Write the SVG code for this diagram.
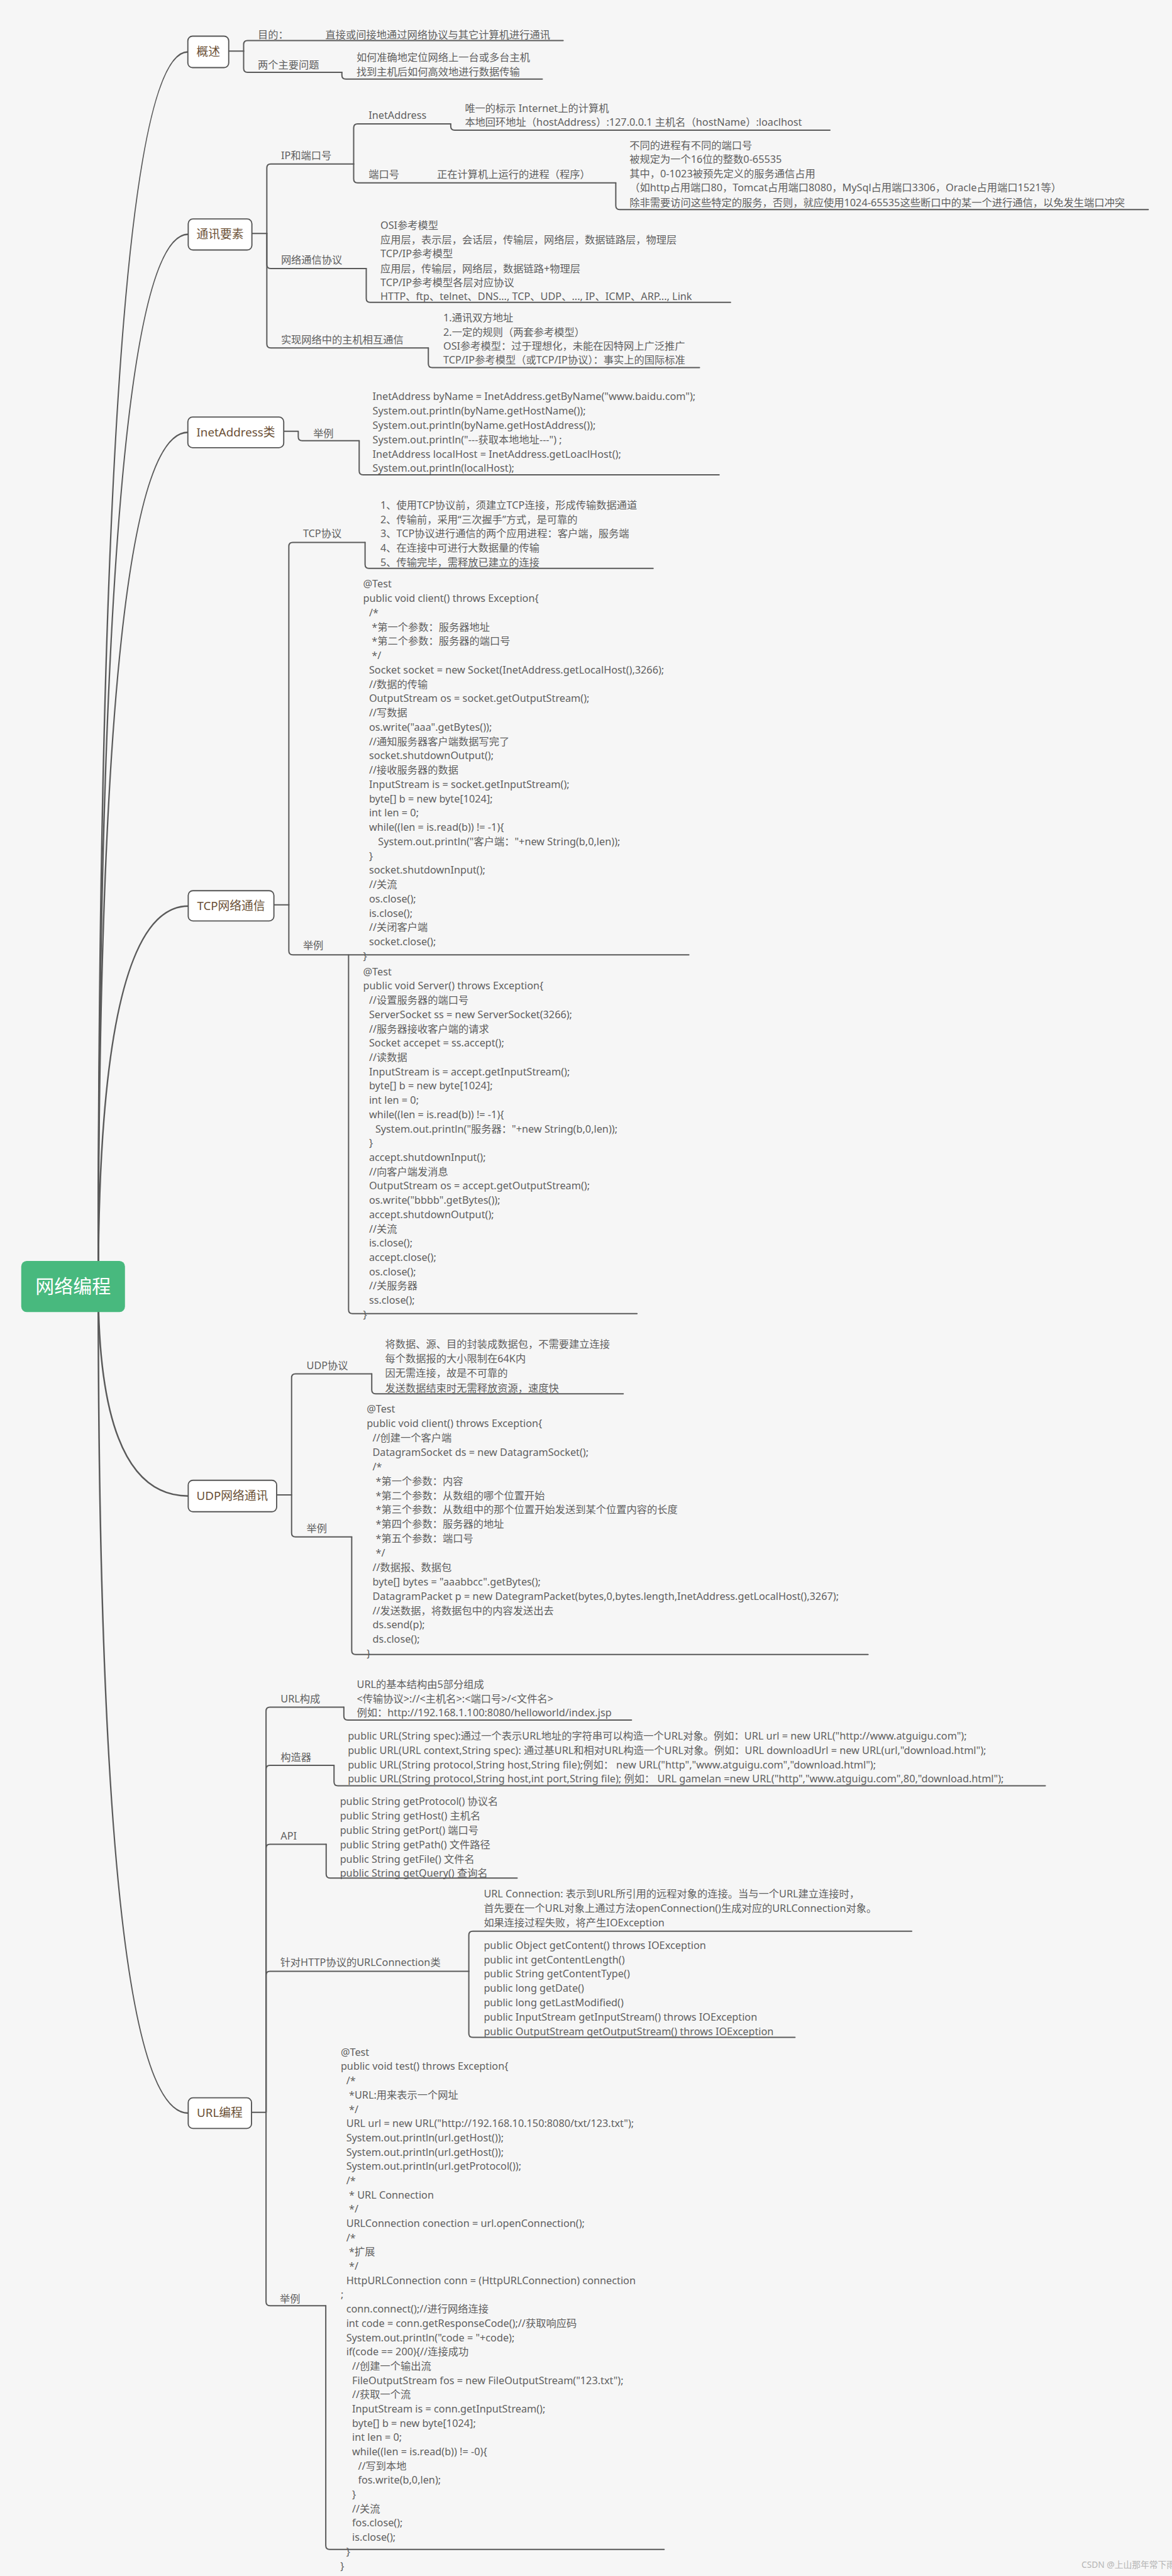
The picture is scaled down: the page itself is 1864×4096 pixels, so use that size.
<svg xmlns="http://www.w3.org/2000/svg" width="1864" height="4096" viewBox="0 0 1864 4096">
<style>
.bg{fill:#f6f6f6}
.c{fill:none;stroke:#5a5a5a;stroke-width:3.2;stroke-linecap:round;stroke-linejoin:round}
.m{fill:none;stroke:#5a5a5a;stroke-width:4}
.t{font-family:"Noto Sans","Noto Sans CJK SC",sans-serif;font-size:26px;fill:#5f5f5f}
.nb{fill:#fff;stroke:#555;stroke-width:3}
.nt{font-family:"Noto Sans","Noto Sans CJK SC",sans-serif;font-size:30px;fill:#6b5036;text-anchor:middle}
.rb{fill:#48b97e}
.rt{font-family:"Noto Sans CJK SC","Noto Sans",sans-serif;font-size:48px;fill:#fff;text-anchor:middle}
.wm{font-family:"Noto Sans","Noto Sans CJK SC",sans-serif;font-size:22px;fill:#b4b4b4}
</style>
<rect class="bg" width="1864" height="4096"/>
<g transform="scale(0.625)" xml:space="preserve">
<g id="connectors">
<path class="m" d="M250 3273 Q250 132 478 132"/>
<path class="m" d="M250 3273 Q250 596 479 596"/>
<path class="m" d="M250 3273 Q250 1100 478 1100"/>
<path class="m" d="M250 3273 Q250 2305 479 2305"/>
<path class="m" d="M250 3273 Q250 3806 479 3806"/>
<path class="m" d="M250 3273 Q250 5376 479 5376"/>
<path class="c" d="M582 130 H620"/>
<path class="c" d="M620 130 V113 Q620 103 630 103 H1433"/>
<path class="c" d="M620 130 V174 Q620 184 630 184 H870"/>
<path class="c" d="M870 184 V191 Q870 201 880 201 H1380"/>
<path class="c" d="M641 594 H679"/>
<path class="c" d="M679 594 V427 Q679 417 689 417 H900"/>
<path class="c" d="M679 594 V673 Q679 683 689 683 H932"/>
<path class="c" d="M679 594 V875 Q679 885 689 885 H1090"/>
<path class="c" d="M900 417 V325 Q900 315 910 315 H1147"/>
<path class="c" d="M900 417 V455 Q900 465 910 465 H1567"/>
<path class="c" d="M1147 315 V321 Q1147 331 1157 331 H2112"/>
<path class="c" d="M1567 465 V523 Q1567 533 1577 533 H2922"/>
<path class="c" d="M932 683 V759 Q932 769 942 769 H1859"/>
<path class="c" d="M1090 885 V925 Q1090 935 1100 935 H1780"/>
<path class="c" d="M722 1097 H759 V1111 Q759 1121 769 1121 H914"/>
<path class="c" d="M914 1121 V1198 Q914 1208 924 1208 H1830"/>
<path class="c" d="M697 2302 H735"/>
<path class="c" d="M735 2302 V1390 Q735 1380 745 1380 H929"/>
<path class="c" d="M735 2302 V2419 Q735 2429 745 2429 H1753"/>
<path class="c" d="M929 1380 V1436 Q929 1446 939 1446 H1662"/>
<path class="c" d="M887 2429 V3332 Q887 3342 897 3342 H1621"/>
<path class="c" d="M704 3803 H742"/>
<path class="c" d="M742 3803 V3505 Q742 3495 752 3495 H946"/>
<path class="c" d="M742 3803 V3900 Q742 3910 752 3910 H895"/>
<path class="c" d="M946 3495 V3536 Q946 3546 956 3546 H1586"/>
<path class="c" d="M895 3910 V4199 Q895 4209 905 4209 H2209"/>
<path class="c" d="M640 5374 H677"/>
<path class="c" d="M677 5374 V4353 Q677 4343 687 4343 H875"/>
<path class="c" d="M677 5374 V4501 Q677 4491 687 4491 H850"/>
<path class="c" d="M677 5374 V4702 Q677 4692 687 4692 H830"/>
<path class="c" d="M677 5374 V5025 Q677 5015 687 5015 H1193"/>
<path class="c" d="M677 5374 V5856 Q677 5866 687 5866 H829"/>
<path class="c" d="M875 4343 V4366 Q875 4376 885 4376 H1607"/>
<path class="c" d="M850 4491 V4533 Q850 4543 860 4543 H2660"/>
<path class="c" d="M830 4692 V4768 Q830 4778 840 4778 H1316"/>
<path class="c" d="M1193 5015 V4923 Q1193 4913 1203 4913 H2320"/>
<path class="c" d="M1193 5015 V5173 Q1193 5183 1203 5183 H2023"/>
<path class="c" d="M829 5866 V6476 Q829 6486 839 6486 H1690"/>
</g>
<g id="root">
<rect class="rb" x="54" y="3208" width="264" height="130" rx="14"/>
<text class="rt" x="186" y="3290">网络编程</text>
</g>
<g id="gaishu">
<rect class="nb" x="478" y="92" width="104" height="80" rx="12"/>
<text class="nt" x="530" y="142">概述</text>
<text class="t" x="656" y="97">目的：</text>
<text class="t" x="828" y="97">直接或间接地通过网络协议与其它计算机进行通讯</text>
<text class="t" x="656" y="175">两个主要问题</text>
<text class="t" x="907" y="155">如何准确地定位网络上一台或多台主机</text>
<text class="t" x="907" y="192">找到主机后如何高效地进行数据传输</text>
</g>
<g id="tongxun">
<rect class="nb" x="479" y="557" width="162" height="79" rx="12"/>
<text class="nt" x="560" y="606">通讯要素</text>
<text class="t" x="715" y="405">IP和端口号</text>
<text class="t" x="938" y="302">InetAddress</text>
<text class="t" x="1183" y="285">唯一的标示  Internet上的计算机</text>
<text class="t" x="1183" y="320">本地回环地址（hostAddress）:127.0.0.1    主机名（hostName）:loaclhost</text>
<text class="t" x="938" y="453">端口号</text>
<text class="t" x="1112" y="453">正在计算机上运行的进程（程序）</text>
<text class="t" x="1602" y="379">不同的进程有不同的端口号</text>
<text class="t" x="1602" y="415">被规定为一个16位的整数0-65535</text>
<text class="t" x="1602" y="451">其中，0-1023被预先定义的服务通信占用</text>
<text class="t" x="1602" y="487">（如http占用端口80，Tomcat占用端口8080，MySql占用端口3306，Oracle占用端口1521等）</text>
<text class="t" x="1602" y="524">除非需要访问这些特定的服务，否则，就应使用1024-65535这些断口中的某一个进行通信，以免发生端口冲突</text>
<text class="t" x="715" y="671">网络通信协议</text>
<text class="t" x="968" y="582">OSI参考模型</text>
<text class="t" x="968" y="619">应用层，表示层，会话层，传输层，网络层，数据链路层，物理层</text>
<text class="t" x="968" y="655">TCP/IP参考模型</text>
<text class="t" x="968" y="692">应用层，传输层，网络层，数据链路+物理层</text>
<text class="t" x="968" y="728">TCP/IP参考模型各层对应协议</text>
<text class="t" x="968" y="763">HTTP、ftp、telnet、DNS...,  TCP、UDP、...,  IP、ICMP、ARP...,  Link</text>
<text class="t" x="715" y="874">实现网络中的主机相互通信</text>
<text class="t" x="1128" y="818">1.通讯双方地址</text>
<text class="t" x="1128" y="854">2.一定的规则（两套参考模型）</text>
<text class="t" x="1128" y="890">OSI参考模型：过于理想化，未能在因特网上广泛推广</text>
<text class="t" x="1128" y="925">TCP/IP参考模型（或TCP/IP协议）：事实上的国际标准</text>
</g>
<g id="inetaddress">
<rect class="nb" x="478" y="1061" width="244" height="78" rx="12"/>
<text class="nt" x="600" y="1110">InetAddress类</text>
<text class="t" x="797" y="1112">举例</text>
<text class="t"><tspan x="948" y="1018">InetAddress byName = InetAddress.getByName("www.baidu.com");</tspan><tspan x="948" dy="36.5">System.out.println(byName.getHostName());</tspan><tspan x="948" dy="36.5">System.out.println(byName.getHostAddress());</tspan><tspan x="948" dy="36.5">System.out.println("---获取本地地址---") ;</tspan><tspan x="948" dy="36.5">InetAddress localHost = InetAddress.getLoaclHost();</tspan><tspan x="948" dy="36.5">System.out.println(localHost);</tspan></text>
</g>
<g id="tcp">
<rect class="nb" x="479" y="2266" width="218" height="77" rx="12"/>
<text class="nt" x="588" y="2315">TCP网络通信</text>
<text class="t" x="771" y="1366">TCP协议</text>
<text class="t"><tspan x="968" y="1294">1、使用TCP协议前，须建立TCP连接，形成传输数据通道</tspan><tspan x="968" dy="36.5">2、传输前，采用“三次握手”方式，是可靠的</tspan><tspan x="968" dy="36.5">3、TCP协议进行通信的两个应用进程：客户端，服务端</tspan><tspan x="968" dy="36.5">4、在连接中可进行大数据量的传输</tspan><tspan x="968" dy="36.5">5、传输完毕，需释放已建立的连接</tspan></text>
<text class="t" x="771" y="2415">举例</text>
<text class="t"><tspan x="924" y="1495">@Test</tspan><tspan x="924" dy="36.4">public void client() throws Exception{</tspan><tspan x="939" dy="36.4">/*</tspan><tspan x="946" dy="36.4">*第一个参数：服务器地址</tspan><tspan x="946" dy="36.4">*第二个参数：服务器的端口号</tspan><tspan x="946" dy="36.4">*/</tspan><tspan x="939" dy="36.4">Socket socket = new Socket(InetAddress.getLocalHost(),3266);</tspan><tspan x="939" dy="36.4">//数据的传输</tspan><tspan x="939" dy="36.4">OutputStream os = socket.getOutputStream();</tspan><tspan x="939" dy="36.4">//写数据</tspan><tspan x="939" dy="36.4">os.write("aaa".getBytes());</tspan><tspan x="939" dy="36.4">//通知服务器客户端数据写完了</tspan><tspan x="939" dy="36.4">socket.shutdownOutput();</tspan><tspan x="939" dy="36.4">//接收服务器的数据</tspan><tspan x="939" dy="36.4">InputStream is = socket.getInputStream();</tspan><tspan x="939" dy="36.4">byte[] b = new byte[1024];</tspan><tspan x="939" dy="36.4">int len = 0;</tspan><tspan x="939" dy="36.4">while((len = is.read(b)) != -1){</tspan><tspan x="962" dy="36.4">System.out.println("客户端："+new String(b,0,len));</tspan><tspan x="939" dy="36.4">}</tspan><tspan x="939" dy="36.4">socket.shutdownInput();</tspan><tspan x="939" dy="36.4">//关流</tspan><tspan x="939" dy="36.4">os.close();</tspan><tspan x="939" dy="36.4">is.close();</tspan><tspan x="939" dy="36.4">//关闭客户端</tspan><tspan x="939" dy="36.4">socket.close();</tspan><tspan x="924" dy="36.4">}</tspan></text>
<text class="t"><tspan x="924" y="2481">@Test</tspan><tspan x="924" dy="36.35">public void Server() throws Exception{</tspan><tspan x="939" dy="36.35">//设置服务器的端口号</tspan><tspan x="939" dy="36.35">ServerSocket ss = new ServerSocket(3266);</tspan><tspan x="939" dy="36.35">//服务器接收客户端的请求</tspan><tspan x="939" dy="36.35">Socket accepet = ss.accept();</tspan><tspan x="939" dy="36.35">//读数据</tspan><tspan x="939" dy="36.35">InputStream is = accept.getInputStream();</tspan><tspan x="939" dy="36.35">byte[] b = new byte[1024];</tspan><tspan x="939" dy="36.35">int len = 0;</tspan><tspan x="939" dy="36.35">while((len = is.read(b)) != -1){</tspan><tspan x="955" dy="36.35">System.out.println("服务器："+new String(b,0,len));</tspan><tspan x="939" dy="36.35">}</tspan><tspan x="939" dy="36.35">accept.shutdownInput();</tspan><tspan x="939" dy="36.35">//向客户端发消息</tspan><tspan x="939" dy="36.35">OutputStream os = accept.getOutputStream();</tspan><tspan x="939" dy="36.35">os.write("bbbb".getBytes());</tspan><tspan x="939" dy="36.35">accept.shutdownOutput();</tspan><tspan x="939" dy="36.35">//关流</tspan><tspan x="939" dy="36.35">is.close();</tspan><tspan x="939" dy="36.35">accept.close();</tspan><tspan x="939" dy="36.35">os.close();</tspan><tspan x="939" dy="36.35">//关服务器</tspan><tspan x="939" dy="36.35">ss.close();</tspan><tspan x="924" dy="36.35">}</tspan></text>
</g>
<g id="udp">
<rect class="nb" x="479" y="3766" width="225" height="80" rx="12"/>
<text class="nt" x="591" y="3816">UDP网络通讯</text>
<text class="t" x="780" y="3483">UDP协议</text>
<text class="t"><tspan x="980" y="3429">将数据、源、目的封装成数据包，不需要建立连接</tspan><tspan x="980" dy="37">每个数据报的大小限制在64K内</tspan><tspan x="980" dy="37">因无需连接，故是不可靠的</tspan><tspan x="980" dy="37">发送数据结束时无需释放资源，速度快</tspan></text>
<text class="t" x="780" y="3898">举例</text>
<text class="t"><tspan x="933" y="3594">@Test</tspan><tspan x="933" dy="36.6">public void client() throws Exception{</tspan><tspan x="948" dy="36.6">//创建一个客户端</tspan><tspan x="948" dy="36.6">DatagramSocket ds = new DatagramSocket();</tspan><tspan x="948" dy="36.6">/*</tspan><tspan x="956" dy="36.6">*第一个参数：内容</tspan><tspan x="956" dy="36.6">*第二个参数：从数组的哪个位置开始</tspan><tspan x="956" dy="36.6">*第三个参数：从数组中的那个位置开始发送到某个位置内容的长度</tspan><tspan x="956" dy="36.6">*第四个参数：服务器的地址</tspan><tspan x="956" dy="36.6">*第五个参数：端口号</tspan><tspan x="956" dy="36.6">*/</tspan><tspan x="948" dy="36.6">//数据报、数据包</tspan><tspan x="948" dy="36.6">byte[] bytes = "aaabbcc".getBytes();</tspan><tspan x="948" dy="36.6">DatagramPacket p = new DategramPacket(bytes,0,bytes.length,InetAddress.getLocalHost(),3267);</tspan><tspan x="948" dy="36.6">//发送数据，将数据包中的内容发送出去</tspan><tspan x="948" dy="36.6">ds.send(p);</tspan><tspan x="948" dy="36.6">ds.close();</tspan><tspan x="933" dy="36.6">}</tspan></text>
</g>
<g id="url">
<rect class="nb" x="479" y="5337" width="161" height="78" rx="12"/>
<text class="nt" x="559" y="5386">URL编程</text>
<text class="t" x="714" y="4331">URL构成</text>
<text class="t"><tspan x="908" y="4294">URL的基本结构由5部分组成</tspan><tspan x="908" dy="36.5">&lt;传输协议&gt;://&lt;主机名&gt;:&lt;端口号&gt;/&lt;文件名&gt;</tspan><tspan x="908" dy="36.5">例如：http://192.168.1.100:8080/helloworld/index.jsp</tspan></text>
<text class="t" x="714" y="4480">构造器</text>
<text class="t"><tspan x="885" y="4425">public URL(String spec):通过一个表示URL地址的字符串可以构造一个URL对象。例如：URL url = new URL("http://www.atguigu.com");</tspan><tspan x="885" dy="37">public URL(URL context,String spec): 通过基URL和相对URL构造一个URL对象。例如：URL downloadUrl = new URL(url,"download.html");</tspan><tspan x="885" dy="37">public URL(String protocol,String host,String file);例如： new URL("http","www.atguigu.com","download.html");</tspan><tspan x="885" dy="36">public URL(String protocol,String host,int port,String file); 例如： URL gamelan =new URL("http","www.atguigu.com",80,"download.html");</tspan></text>
<text class="t" x="714" y="4680">API</text>
<text class="t"><tspan x="865" y="4592">public String getProtocol()  协议名</tspan><tspan x="865" dy="36.6">public String getHost()  主机名</tspan><tspan x="865" dy="36.6">public String getPort()  端口号</tspan><tspan x="865" dy="36.6">public String getPath()  文件路径</tspan><tspan x="865" dy="36.6">public String getFile()  文件名</tspan><tspan x="865" dy="36.6">public String getQuery()  查询名</tspan></text>
<text class="t" x="713" y="5002">针对HTTP协议的URLConnection类</text>
<text class="t"><tspan x="1231" y="4827">URL Connection: 表示到URL所引用的远程对象的连接。当与一个URL建立连接时，</tspan><tspan x="1231" dy="36.5">首先要在一个URL对象上通过方法openConnection()生成对应的URLConnection对象。</tspan><tspan x="1231" dy="36.5">如果连接过程失败，将产生IOException</tspan></text>
<text class="t"><tspan x="1231" y="4958">public Object getContent() throws IOException</tspan><tspan x="1231" dy="36.5">public int getContentLength()</tspan><tspan x="1231" dy="36.5">public String getContentType()</tspan><tspan x="1231" dy="36.5">public long getDate()</tspan><tspan x="1231" dy="36.5">public long getLastModified()</tspan><tspan x="1231" dy="36.5">public InputStream getInputStream() throws IOException</tspan><tspan x="1231" dy="36.5">public OutputStream getOutputStream() throws IOException</tspan></text>
<text class="t" x="712" y="5857">举例</text>
<text class="t"><tspan x="867" y="5230">@Test</tspan><tspan x="867" dy="36.3">public void test() throws Exception{</tspan><tspan x="881" dy="36.3">/*</tspan><tspan x="888" dy="36.3">*URL:用来表示一个网址</tspan><tspan x="888" dy="36.3">*/</tspan><tspan x="881" dy="36.3">URL url = new URL("http://192.168.10.150:8080/txt/123.txt");</tspan><tspan x="881" dy="36.3">System.out.println(url.getHost());</tspan><tspan x="881" dy="36.3">System.out.println(url.getHost());</tspan><tspan x="881" dy="36.3">System.out.println(url.getProtocol());</tspan><tspan x="881" dy="36.3">/*</tspan><tspan x="888" dy="36.3">* URL Connection</tspan><tspan x="888" dy="36.3">*/</tspan><tspan x="881" dy="36.3">URLConnection conection = url.openConnection();</tspan><tspan x="881" dy="36.3">/*</tspan><tspan x="888" dy="36.3">*扩展</tspan><tspan x="888" dy="36.3">*/</tspan><tspan x="881" dy="36.3">HttpURLConnection conn = (HttpURLConnection) connection</tspan><tspan x="867" dy="36.3">;</tspan><tspan x="881" dy="36.3">conn.connect();//进行网络连接</tspan><tspan x="881" dy="36.3">int code = conn.getResponseCode();//获取响应码</tspan><tspan x="881" dy="36.3">System.out.println("code = "+code);</tspan><tspan x="881" dy="36.3">if(code == 200){//连接成功</tspan><tspan x="896" dy="36.3">//创建一个输出流</tspan><tspan x="896" dy="36.3">FileOutputStream fos = new FileOutputStream("123.txt");</tspan><tspan x="896" dy="36.3">//获取一个流</tspan><tspan x="896" dy="36.3">InputStream is = conn.getInputStream();</tspan><tspan x="896" dy="36.3">byte[] b = new byte[1024];</tspan><tspan x="896" dy="36.3">int len = 0;</tspan><tspan x="896" dy="36.3">while((len = is.read(b)) != -0){</tspan><tspan x="911" dy="36.3">//写到本地</tspan><tspan x="911" dy="36.3">fos.write(b,0,len);</tspan><tspan x="896" dy="36.3">}</tspan><tspan x="896" dy="36.3">//关流</tspan><tspan x="896" dy="36.3">fos.close();</tspan><tspan x="896" dy="36.3">is.close();</tspan><tspan x="881" dy="36.3">}</tspan><tspan x="866" dy="36.3">}</tspan></text>
</g>
<text class="wm" x="2752" y="6532">CSDN @上山那年常下雨</text>
</g>
</svg>
